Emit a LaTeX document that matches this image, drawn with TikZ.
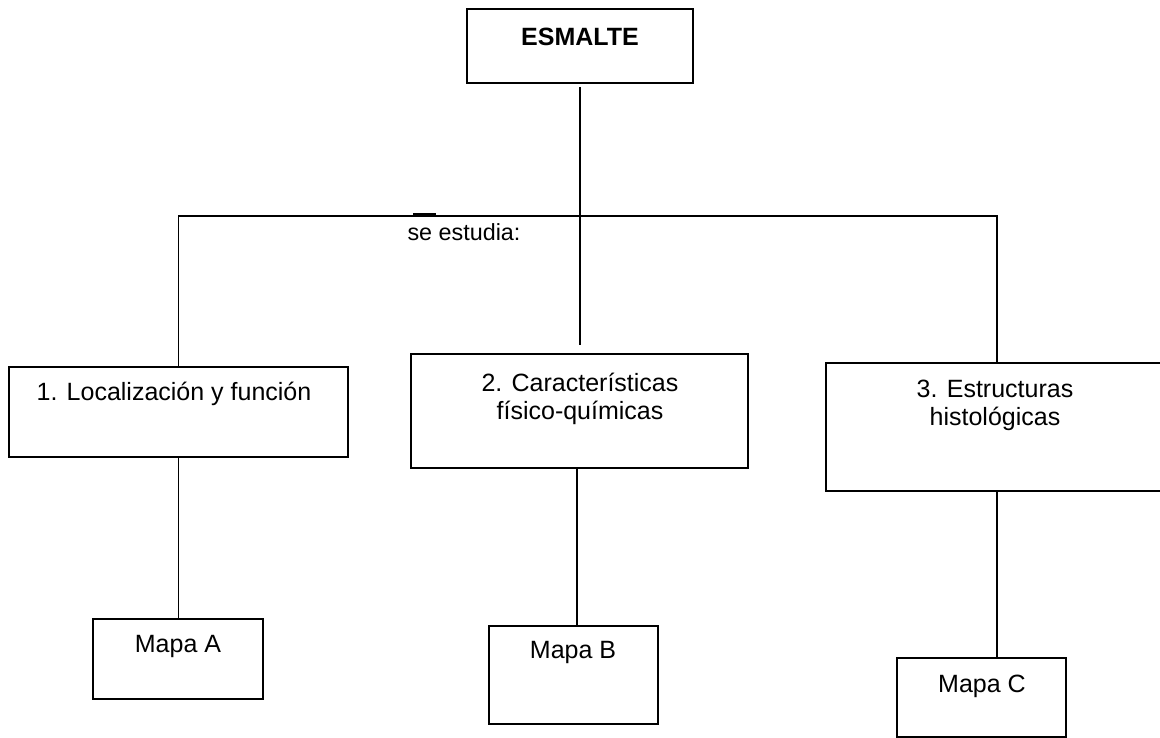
\documentclass[tikz,border=0pt]{standalone}
\usepackage{fontspec}
\setmainfont{Liberation Sans}
\begin{document}
\begin{tikzpicture}[x=0.75pt, y=-0.75pt,
  box/.style={draw, rectangle, line width=2.2pt, inner sep=0pt, outer sep=0pt},
  conn/.style={line width=1.1pt},
  lbl/.style={inner sep=0pt, align=center, font=\fontsize{18.75}{21}\selectfont},
  sublbl/.style={inner sep=0pt, font=\fontsize{17.5}{20}\selectfont}]
  % page frame
  \clip (0,0) rectangle (1160,738);
  \useasboundingbox (0,0) rectangle (1160,738);

  % boxes
  \node[box, minimum width=169.5pt,  minimum height=55.5pt] (top) at (580,46) {};
  \node[box, minimum width=254.25pt, minimum height=67.5pt] (b1)  at (178.5,412) {};
  \node[box, minimum width=252.75pt, minimum height=85.5pt] (b2)  at (579.5,411) {};
  \node[box, minimum width=256.5pt,  minimum height=96pt]   (b3)  at (997,427) {};
  \node[box, minimum width=127.5pt,  minimum height=60pt]   (mA)  at (178,659) {};
  \node[box, minimum width=126.75pt, minimum height=73.5pt] (mB)  at (573.5,675) {};
  \node[box, minimum width=126.75pt, minimum height=59.25pt](mC)  at (981.5,697.5) {};

  % texts
  \node[lbl, font=\fontsize{18.75}{21}\selectfont\bfseries] (ttop) at (580,37) {ESMALTE};
  \node[lbl] (t1) at (174,394) {1. Localización y función};
  \node[lbl] (t2) at (580,399) {2. Características\\físico-químicas};
  \node[lbl] (t3) at (995,405) {3. Estructuras\\histológicas};
  \node[lbl] (tA) at (178,646) {Mapa A};
  \node[lbl] (tB) at (573,652) {Mapa B};
  \node[lbl] (tC) at (982,686) {Mapa C};
  \node[sublbl] (se) at (464,232) {se estudia:};

  % connectors
  \coordinate (hub) at (580,216);
  \coordinate (lx2) at (577,0);
  \draw[conn, shorten <=3pt, shorten >=6.75pt] (top.south) -- (top.south |- b2.north);
  \draw[conn] (b1.north) |- (hub) -| (b3.north);
  \draw[conn] (b1.south) -- (b1.south |- mA.north);
  \draw[conn] (b2.south -| lx2) -- (mB.north -| lx2);
  \draw[conn] (b3.south) -- (b3.south |- mC.north);

  % short heavier stroke on the bar
  \coordinate (m1) at (413,214.5);
  \coordinate (m2) at (436,214.5);
  \draw[line width=2pt] (m1) -- (m2);
\end{tikzpicture}
\end{document}
